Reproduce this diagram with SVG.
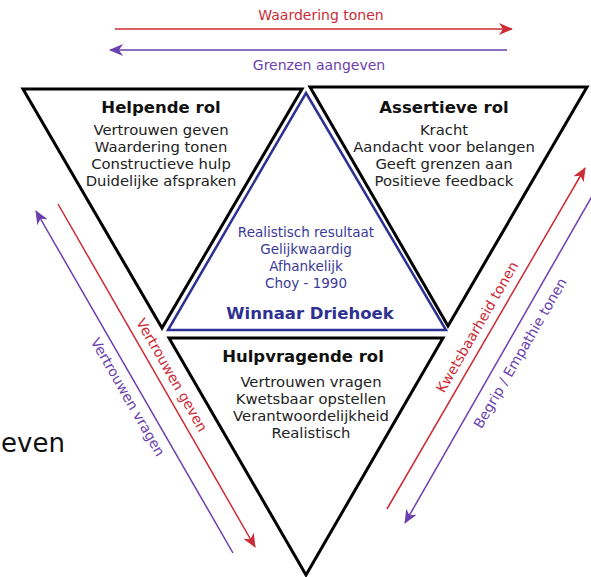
<svg xmlns="http://www.w3.org/2000/svg" width="591" height="577" viewBox="0 0 591 577">
  <style>
    .tri { fill: #ffffff; stroke: #000000; stroke-width: 3; stroke-linejoin: miter; }
    .center { fill: #ffffff; stroke: #2e3192; stroke-width: 2.5; }
    .txt { font-family: "DejaVu Sans", sans-serif; font-size: 14.8px; fill: #222222; text-anchor: middle; }
    .title { font-family: "DejaVu Sans", sans-serif; font-size: 16.5px; font-weight: bold; fill: #111111; text-anchor: middle; }
    .btxt { font-family: "DejaVu Sans", sans-serif; font-size: 13.5px; fill: #3a3a9a; text-anchor: middle; }
    .btitle { font-family: "DejaVu Sans", sans-serif; font-size: 16.5px; font-weight: bold; fill: #2e3192; text-anchor: middle; }
    .red { stroke: #cc2b36; stroke-width: 1.5; fill: none; }
    .purple { stroke: #6b3fae; stroke-width: 1.5; fill: none; }
    .rlabel { font-family: "DejaVu Sans", sans-serif; font-size: 14px; fill: #cc2b36; text-anchor: middle; }
    .plabel { font-family: "DejaVu Sans", sans-serif; font-size: 14px; fill: #6b3fae; text-anchor: middle; }
  </style>
  <defs>
    <marker id="headRed" viewBox="0 0 14 12" refX="13" refY="6" markerWidth="14" markerHeight="12" markerUnits="userSpaceOnUse" orient="auto">
      <path d="M0,0 L14,6 L0,12 L4,6 Z" fill="#cc2b36"/>
    </marker>
    <marker id="headPurple" viewBox="0 0 14 12" refX="13" refY="6" markerWidth="14" markerHeight="12" markerUnits="userSpaceOnUse" orient="auto">
      <path d="M0,0 L14,6 L0,12 L4,6 Z" fill="#6b3fae"/>
    </marker>
  </defs>

  <rect width="591" height="577" fill="#ffffff"/>

  <!-- partial caption at the left edge -->
  <text x="1" y="452" font-family="DejaVu Sans, sans-serif" font-size="26" fill="#111111">even</text>

  <g id="helpende-rol">
    <polygon class="tri" points="23,89 302,89 162,328"/>
    <text class="title" x="161" y="113">Helpende rol</text>
    <text class="txt" x="161" y="135">Vertrouwen geven</text>
    <text class="txt" x="161" y="152">Waardering tonen</text>
    <text class="txt" x="161" y="169">Constructieve hulp</text>
    <text class="txt" x="161" y="186">Duidelijke afspraken</text>
  </g>

  <g id="assertieve-rol">
    <polygon class="tri" points="310,87 587,87 448,326"/>
    <text class="title" x="444" y="113">Assertieve rol</text>
    <text class="txt" x="444" y="135">Kracht</text>
    <text class="txt" x="444" y="152">Aandacht voor belangen</text>
    <text class="txt" x="444" y="169">Geeft grenzen aan</text>
    <text class="txt" x="444" y="186">Positieve feedback</text>
  </g>

  <g id="winnaar-driehoek">
    <polygon class="center" points="306,93 446,330 168,330"/>
    <text class="btxt" x="306" y="237">Realistisch resultaat</text>
    <text class="btxt" x="306" y="254">Gelijkwaardig</text>
    <text class="btxt" x="306" y="271">Afhankelijk</text>
    <text class="btxt" x="306" y="288">Choy - 1990</text>
    <text class="btitle" x="310" y="319">Winnaar Driehoek</text>
  </g>

  <g id="hulpvragende-rol">
    <polygon class="tri" points="169,338 443,338 306,575"/>
    <text class="title" x="303" y="362">Hulpvragende rol</text>
    <text class="txt" x="311" y="387">Vertrouwen vragen</text>
    <text class="txt" x="311" y="404">Kwetsbaar opstellen</text>
    <text class="txt" x="311" y="421">Verantwoordelijkheid</text>
    <text class="txt" x="311" y="438">Realistisch</text>
  </g>

  <g id="connectors">
    <!-- top pair -->
    <line class="red" x1="115" y1="29" x2="512" y2="29" marker-end="url(#headRed)"/>
    <text class="rlabel" x="321" y="20">Waardering tonen</text>
    <line class="purple" x1="507" y1="50" x2="110" y2="50" marker-end="url(#headPurple)"/>
    <text class="plabel" x="319" y="70">Grenzen aangeven</text>

    <!-- left pair -->
    <line class="red" x1="58" y1="204" x2="255" y2="547" marker-end="url(#headRed)"/>
    <text class="rlabel" transform="translate(172,375) rotate(60.1)" y="5">Vertrouwen geven</text>
    <line class="purple" x1="233" y1="553" x2="36" y2="211" marker-end="url(#headPurple)"/>
    <text class="plabel" transform="translate(128,397) rotate(60.1)" y="5">Vertrouwen vragen</text>

    <!-- right pair -->
    <line class="red" x1="387" y1="509" x2="585" y2="168" marker-end="url(#headRed)"/>
    <text class="rlabel" transform="translate(477,327) rotate(-59.9)" y="5">Kwetsbaarheid tonen</text>
    <line class="purple" x1="595" y1="191" x2="405" y2="523" marker-end="url(#headPurple)"/>
    <text class="plabel" transform="translate(520,353) rotate(-59.9)" y="5">Begrip / Empathie tonen</text>
  </g>
</svg>
